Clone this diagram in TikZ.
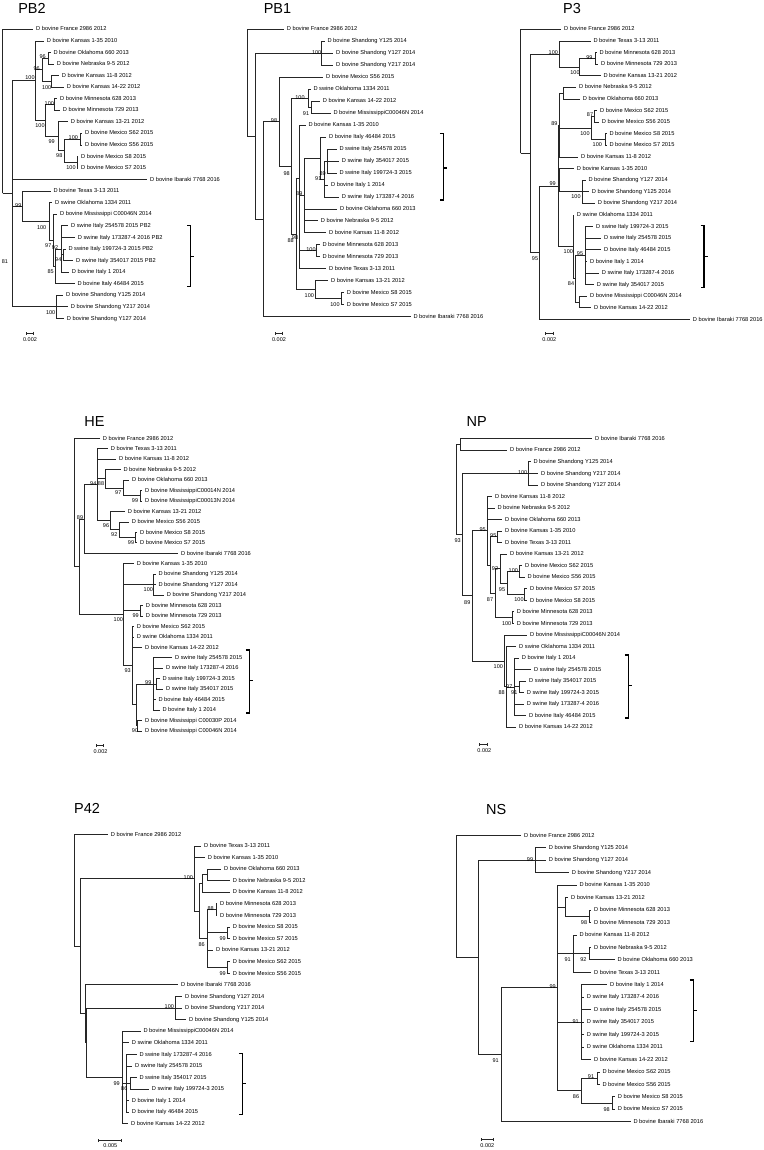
\documentclass[tikz,border=0pt]{standalone}
\usepackage{fontspec}
\setmainfont{Liberation Sans}
\usetikzlibrary{arrows.meta}

\begin{document}
\begin{tikzpicture}[
	x=1pt, y=-1pt,
	branch/.style={draw=black!85, line width=0.7pt},
	leaf/.style={
		anchor=west,
		inner xsep=2.6pt,
		inner ysep=0pt,
		text height=4.2pt,
		text depth=0.8pt,
		font=\fontsize{5.7}{6}\selectfont
	},
	boot/.style={inner sep=0pt, font=\fontsize{5.5}{6}\selectfont},
	title/.style={inner sep=0pt, font=\fontsize{14.5}{16}\selectfont},
	brace/.style={draw=black, line width=1.3pt},
	scalebar/.style={draw=black!85, line width=0.6pt, arrows={Bar[width=3pt]-Bar[width=3pt]}}
]
\fill[white] (0,0) rectangle (763,1150);
\useasboundingbox (0,0) rectangle (763,1150);

% ================= PB2 =================
\node[title] (pb2-title) at (32,8.7) {PB2};

% inner nodes
\coordinate (pb2-r) at (2.7,193.3);
\coordinate (pb2-a) at (12.3,193.3);
\coordinate (pb2-b) at (35.7,80.6);
\coordinate (pb2-x) at (42.3,69.8);
\coordinate (pb2-on) at (48.3,58.2);
\coordinate (pb2-kk) at (51.7,81.3);
\coordinate (pb2-y) at (45.7,120.4);
\coordinate (pb2-mn) at (54,104.5);
\coordinate (pb2-z) at (58.3,136.3);
\coordinate (pb2-mx) at (64.3,150.7);
\coordinate (pb2-m1) at (80,139.1);
\coordinate (pb2-m2) at (77.3,162.3);
\coordinate (pb2-c) at (22.7,206.3);
\coordinate (pb2-d) at (49.3,221.5);
\coordinate (pb2-g) at (53.3,240.3);
\coordinate (pb2-f) at (55,266.3);
\coordinate (pb2-e) at (61,249);
\coordinate (pb2-e2) at (63.3,254.8);
\coordinate (pb2-sd) at (56.7,306.8);

% leaves
\node[leaf] (pb2-fr) at (33.4,29.3) {D bovine France 2986 2012};
\node[leaf] (pb2-ks135) at (44.1,40.9) {D bovine Kansas 1-35 2010};
\node[leaf] (pb2-ok660) at (50.7,52.4) {D bovine Oklahoma 660 2013};
\node[leaf] (pb2-ne95) at (54.1,64.0) {D bovine Nebraska 9-5 2012};
\node[leaf] (pb2-ks118) at (59.1,75.5) {D bovine Kansas 11-8 2012};
\node[leaf] (pb2-ks1422) at (64.1,87.1) {D bovine Kansas 14-22 2012};
\node[leaf] (pb2-mn628) at (57.4,98.7) {D bovine Minnesota 628 2013};
\node[leaf] (pb2-mn729) at (60.1,110.2) {D bovine Minnesota 729 2013};
\node[leaf] (pb2-ks1321) at (68.1,121.8) {D bovine Kansas 13-21 2012};
\node[leaf] (pb2-mxs62) at (82.4,133.3) {D bovine Mexico S62 2015};
\node[leaf] (pb2-mxs56) at (82.4,144.9) {D bovine Mexico S56 2015};
\node[leaf] (pb2-mxs8) at (78.4,156.5) {D bovine Mexico S8 2015};
\node[leaf] (pb2-mxs7) at (78.4,168.0) {D bovine Mexico S7 2015};
\node[leaf] (pb2-ib) at (147.4,179.6) {D bovine Ibaraki 7768 2016};
\node[leaf] (pb2-tx) at (50.7,191.1) {D bovine Texas 3-13 2011};
\node[leaf] (pb2-ok1334) at (52.4,202.7) {D swine Oklahoma 1334 2011};
\node[leaf] (pb2-ms46) at (57.4,214.3) {D bovine Mississippi C00046N 2014};
\node[leaf] (pb2-it2545) at (68.4,225.8) {D swine Italy 254578 2015 PB2};
\node[leaf] (pb2-it1732) at (75.1,237.4) {D swine Italy 173287-4 2016 PB2};
\node[leaf] (pb2-it1997) at (65.7,249.0) {D swine Italy 199724-3 2015 PB2};
\node[leaf] (pb2-it3540) at (73.4,260.5) {D swine Italy 354017 2015 PB2};
\node[leaf] (pb2-it1) at (69.1,272.1) {D bovine Italy 1 2014};
\node[leaf] (pb2-it4648) at (74.7,283.6) {D bovine Italy 46484 2015};
\node[leaf] (pb2-sd125) at (63.4,295.2) {D bovine Shandong Y125 2014};
\node[leaf] (pb2-sd217) at (68.1,306.8) {D bovine Shandong Y217 2014};
\node[leaf] (pb2-sd127) at (64.1,318.3) {D bovine Shandong Y127 2014};

% branches
\draw[branch] (pb2-r) |- (pb2-fr.west) (pb2-r) |- (pb2-a);
\draw[branch] (pb2-a) |- (pb2-b) (pb2-a) |- (pb2-ib.west) (pb2-a) |- (pb2-c) (pb2-a) |- (pb2-sd);
\draw[branch] (pb2-b) |- (pb2-ks135.west) (pb2-b) |- (pb2-x) (pb2-b) |- (pb2-y);
\draw[branch] (pb2-x) |- (pb2-on) (pb2-x) |- (pb2-kk);
\draw[branch] (pb2-on) |- (pb2-ok660.west) (pb2-on) |- (pb2-ne95.west);
\draw[branch] (pb2-kk) |- (pb2-ks118.west) (pb2-kk) |- (pb2-ks1422.west);
\draw[branch] (pb2-y) |- (pb2-mn) (pb2-y) |- (pb2-z);
\draw[branch] (pb2-mn) |- (pb2-mn628.west) (pb2-mn) |- (pb2-mn729.west);
\draw[branch] (pb2-z) |- (pb2-ks1321.west) (pb2-z) |- (pb2-mx);
\draw[branch] (pb2-mx) |- (pb2-m1) (pb2-mx) |- (pb2-m2);
\draw[branch] (pb2-m1) |- (pb2-mxs62.west) (pb2-m1) |- (pb2-mxs56.west);
\draw[branch] (pb2-m2) |- (pb2-mxs8.west) (pb2-m2) |- (pb2-mxs7.west);
\draw[branch] (pb2-c) |- (pb2-tx.west) (pb2-c) |- (pb2-d);
\draw[branch] (pb2-d) |- (pb2-ok1334.west) (pb2-d) |- (pb2-g);
\draw[branch] (pb2-g) |- (pb2-ms46.west) (pb2-g) |- (pb2-f);
\draw[branch] (pb2-f) |- (pb2-e) (pb2-f) |- (pb2-it4648.west);
\draw[branch] (pb2-e) |- (pb2-it2545.west) (pb2-e) |- (pb2-it1732.west) (pb2-e) |- (pb2-e2) (pb2-e) |- (pb2-it1.west);
\draw[branch] (pb2-e2) |- (pb2-it1997.west) (pb2-e2) |- (pb2-it3540.west);
\draw[branch] (pb2-sd) |- (pb2-sd125.west) (pb2-sd) |- (pb2-sd217.west) (pb2-sd) |- (pb2-sd127.west);

% bootstrap values
\node[boot] (pb2-b1) at (30,78) {100};
\node[boot] (pb2-b2) at (42.7,56.7) {96};
\node[boot] (pb2-b3) at (36.7,68.3) {96};
\node[boot] (pb2-b4) at (46.7,87.3) {100};
\node[boot] (pb2-b5) at (49.3,103.3) {100};
\node[boot] (pb2-b6) at (40,126) {100};
\node[boot] (pb2-b7) at (51.7,141.7) {99};
\node[boot] (pb2-b8) at (73.3,137.3) {100};
\node[boot] (pb2-b9) at (59.3,156) {98};
\node[boot] (pb2-b10) at (71,167.3) {100};
\node[boot] (pb2-b11) at (18.3,205.7) {99};
\node[boot] (pb2-b12) at (41.7,227.3) {100};
\node[boot] (pb2-b13) at (48.3,245.7) {97};
\node[boot] (pb2-b14) at (55,247.3) {92};
\node[boot] (pb2-b15) at (58.3,259.3) {94};
\node[boot] (pb2-b16) at (50.7,271.7) {85};
\node[boot] (pb2-b17) at (5,262) {81};
\node[boot] (pb2-b18) at (50.7,312.7) {100};

% bracket and scale
\coordinate (pb2-kt) at (190.7,225.7);
\coordinate (pb2-kb) at (190.7,286.7);
\coordinate (pb2-km) at (190.7,256.2);
\draw[brace] ([xshift=-3.5pt]pb2-kt) -- (pb2-kt) -- (pb2-kb) -- ([xshift=-3.5pt]pb2-kb) (pb2-km) -- ([xshift=3.5pt]pb2-km);
\coordinate (pb2-s1) at (26,333);
\coordinate (pb2-s2) at (34,333);
\draw[scalebar] (pb2-s1) -- (pb2-s2);
\node[boot] (pb2-scale) at (30,340) {0.002};

% ================= PB1 =================
\node[title] (pb1-title) at (277.5,8.7) {PB1};

% inner nodes
\coordinate (pb1-r) at (247,136.2);
\coordinate (pb1-n1) at (255,136.2);
\coordinate (pb1-sd) at (321.7,53.2);
\coordinate (pb1-n2) at (263.3,219.1);
\coordinate (pb1-n3) at (279.3,121.7);
\coordinate (pb1-n4) at (291.7,166.1);
\coordinate (pb1-n5) at (308.3,98.2);
\coordinate (pb1-n5b) at (311,107.1);
\coordinate (pb1-n7) at (296.7,234);
\coordinate (pb1-n10) at (299.5,178.3);
\coordinate (pb1-n9) at (304,195.4);
\coordinate (pb1-i3) at (320,158);
\coordinate (pb1-i2) at (324,179);
\coordinate (pb1-i1) at (327.5,161);
\coordinate (pb1-mn) at (316.7,250.8);
\coordinate (pb1-k13) at (315.7,289.7);
\coordinate (pb1-mx) at (341,298.6);

% leaves
\node[leaf] (pb1-fr) at (284.1,29.3) {D bovine France 2986 2012};
\node[leaf] (pb1-sd125) at (324.7,41.3) {D bovine Shandong Y125 2014};
\node[leaf] (pb1-sd127) at (333.4,53.2) {D bovine Shandong Y127 2014};
\node[leaf] (pb1-sd217) at (333.4,65.2) {D bovine Shandong Y217 2014};
\node[leaf] (pb1-mxs56) at (323.4,77.2) {D bovine Mexico S56 2015};
\node[leaf] (pb1-ok1334) at (310.7,89.2) {D swine Oklahoma 1334 2011};
\node[leaf] (pb1-ks1422) at (320.1,101.1) {D bovine Kansas 14-22 2012};
\node[leaf] (pb1-ms46) at (330.7,113.1) {D bovine MississippiC00046N 2014};
\node[leaf] (pb1-ks135) at (305.7,125.1) {D bovine Kansas 1-35 2010};
\node[leaf] (pb1-it4648) at (326.4,137.0) {D bovine Italy 46484 2015};
\node[leaf] (pb1-it2545) at (336.7,149.0) {D swine Italy 254578 2015};
\node[leaf] (pb1-it3540) at (339.1,161.0) {D swine Italy 354017 2015};
\node[leaf] (pb1-it1997) at (336.7,172.9) {D swine Italy 199724-3 2015};
\node[leaf] (pb1-it1) at (328.4,184.9) {D bovine Italy 1 2014};
\node[leaf] (pb1-it1732) at (339.1,196.9) {D swine Italy 173287-4 2016};
\node[leaf] (pb1-ok660) at (337.4,208.9) {D bovine Oklahoma 660 2013};
\node[leaf] (pb1-ne95) at (318.1,220.8) {D bovine Nebraska 9-5 2012};
\node[leaf] (pb1-ks118) at (326.4,232.8) {D bovine Kansas 11-8 2012};
\node[leaf] (pb1-mn628) at (319.7,244.8) {D bovine Minnesota 628 2013};
\node[leaf] (pb1-mn729) at (319.7,256.7) {D bovine Minnesota 729 2013};
\node[leaf] (pb1-tx) at (326.4,268.7) {D bovine Texas 3-13 2011};
\node[leaf] (pb1-ks1321) at (328.4,280.7) {D bovine Kansas 13-21 2012};
\node[leaf] (pb1-mxs8) at (344.1,292.6) {D bovine Mexico S8 2015};
\node[leaf] (pb1-mxs7) at (344.1,304.6) {D bovine Mexico S7 2015};
\node[leaf] (pb1-ib) at (410.7,316.6) {D bovine Ibaraki 7768 2016};

% branches
\draw[branch] (pb1-r) |- (pb1-fr.west) (pb1-r) |- (pb1-n1);
\draw[branch] (pb1-n1) |- (pb1-sd) (pb1-n1) |- (pb1-n2);
\draw[branch] (pb1-sd) |- (pb1-sd125.west) (pb1-sd) |- (pb1-sd127.west) (pb1-sd) |- (pb1-sd217.west);
\draw[branch] (pb1-n2) |- (pb1-n3) (pb1-n2) |- (pb1-ib.west);
\draw[branch] (pb1-n3) |- (pb1-mxs56.west) (pb1-n3) |- (pb1-n4);
\draw[branch] (pb1-n4) |- (pb1-n5) (pb1-n4) |- (pb1-n7);
\draw[branch] (pb1-n5) |- (pb1-ok1334.west) (pb1-n5) |- (pb1-n5b);
\draw[branch] (pb1-n5b) |- (pb1-ks1422.west) (pb1-n5b) |- (pb1-ms46.west);
\draw[branch] (pb1-n7) |- (pb1-n10) (pb1-n7) |- (pb1-k13);
\draw[branch] (pb1-n10) |- (pb1-ks135.west) (pb1-n10) |- (pb1-n9) (pb1-n10) |- (pb1-mn) (pb1-n10) |- (pb1-tx.west);
\draw[branch] (pb1-n9) |- (pb1-i3) (pb1-n9) |- (pb1-ok660.west) (pb1-n9) |- (pb1-ne95.west) (pb1-n9) |- (pb1-ks118.west);
\draw[branch] (pb1-i3) |- (pb1-it4648.west) (pb1-i3) |- (pb1-i2);
\draw[branch] (pb1-i2) |- (pb1-i1) (pb1-i2) |- (pb1-it1.west) (pb1-i2) |- (pb1-it1732.west);
\draw[branch] (pb1-i1) |- (pb1-it2545.west) (pb1-i1) |- (pb1-it3540.west) (pb1-i1) |- (pb1-it1997.west);
\draw[branch] (pb1-mn) |- (pb1-mn628.west) (pb1-mn) |- (pb1-mn729.west);
\draw[branch] (pb1-k13) |- (pb1-ks1321.west) (pb1-k13) |- (pb1-mx);
\draw[branch] (pb1-mx) |- (pb1-mxs8.west) (pb1-mx) |- (pb1-mxs7.west);

% bootstrap values
\node[boot] (pb1-b1) at (316.7,52.7) {100};
\node[boot] (pb1-b2) at (274,120.7) {98};
\node[boot] (pb1-b3) at (300,97.7) {100};
\node[boot] (pb1-b4) at (306,113.3) {91};
\node[boot] (pb1-b5) at (286.7,173.3) {98};
\node[boot] (pb1-b6) at (322.7,173.3) {89};
\node[boot] (pb1-b7) at (318.3,179) {91};
\node[boot] (pb1-b8) at (299.3,193.3) {89};
\node[boot] (pb1-b9) at (295,237.7) {98};
\node[boot] (pb1-b10) at (290.7,240.7) {88};
\node[boot] (pb1-b11) at (311,250) {100};
\node[boot] (pb1-b12) at (309.3,296) {100};
\node[boot] (pb1-b13) at (335,305) {100};

% bracket and scale
\coordinate (pb1-kt) at (443.3,133.3);
\coordinate (pb1-kb) at (443.3,200);
\coordinate (pb1-km) at (443.3,168);
\draw[brace] ([xshift=-3.5pt]pb1-kt) -- (pb1-kt) -- (pb1-kb) -- ([xshift=-3.5pt]pb1-kb) (pb1-km) -- ([xshift=3.5pt]pb1-km);
\coordinate (pb1-s1) at (275,333);
\coordinate (pb1-s2) at (283,333);
\draw[scalebar] (pb1-s1) -- (pb1-s2);
\node[boot] (pb1-scale) at (279,340) {0.002};

% ================= P3 =================
\node[title] (p3-title) at (572,8.3) {P3};

% inner nodes
\coordinate (p3-r) at (520.7,153.3);
\coordinate (p3-m1) at (530,153.3);
\coordinate (p3-tn) at (559.3,54);
\coordinate (p3-tk) at (579,67);
\coordinate (p3-mn) at (595,58.3);
\coordinate (p3-m2) at (539.3,252.6);
\coordinate (p3-m4) at (558.3,185.9);
\coordinate (p3-m6) at (559.3,125);
\coordinate (p3-no) at (563.3,93.1);
\coordinate (p3-mx) at (591.7,127.9);
\coordinate (p3-mx1) at (594.3,116.3);
\coordinate (p3-mx2) at (605,139.5);
\coordinate (p3-m5) at (559.3,180.1);
\coordinate (p3-sd) at (582.3,191.7);
\coordinate (p3-o1) at (573.3,246.8);
\coordinate (p3-o2) at (575,278.7);
\coordinate (p3-it) at (585,255.5);
\coordinate (p3-mk) at (579,301.9);

% leaves
\node[leaf] (p3-fr) at (561.4,29.3) {D bovine France 2986 2012};
\node[leaf] (p3-tx) at (590.7,40.9) {D bovine Texas 3-13 2011};
\node[leaf] (p3-mn628) at (596.7,52.5) {D bovine Minnesota 628 2013};
\node[leaf] (p3-mn729) at (598.4,64.1) {D bovine Minnesota 729 2013};
\node[leaf] (p3-ks1321) at (600.7,75.7) {D bovine Kansas 13-21 2012};
\node[leaf] (p3-ne95) at (576.4,87.3) {D bovine Nebraska 9-5 2012};
\node[leaf] (p3-ok660) at (580.1,98.9) {D bovine Oklahoma 660 2013};
\node[leaf] (p3-mxs62) at (597.4,110.5) {D bovine Mexico S62 2015};
\node[leaf] (p3-mxs56) at (599.1,122.1) {D bovine Mexico S56 2015};
\node[leaf] (p3-mxs8) at (606.7,133.7) {D bovine Mexico S8 2015};
\node[leaf] (p3-mxs7) at (606.7,145.3) {D bovine Mexico S7 2015};
\node[leaf] (p3-ks118) at (578.4,156.9) {D bovine Kansas 11-8 2012};
\node[leaf] (p3-ks135) at (574.1,168.5) {D bovine Kansas 1-35 2010};
\node[leaf] (p3-sd127) at (585.7,180.1) {D bovine Shandong Y127 2014};
\node[leaf] (p3-sd125) at (589.1,191.7) {D bovine Shandong Y125 2014};
\node[leaf] (p3-sd217) at (595.1,203.3) {D bovine Shandong Y217 2014};
\node[leaf] (p3-ok1334) at (574.1,214.9) {D swine Oklahoma 1334 2011};
\node[leaf] (p3-it1997) at (593.4,226.5) {D swine Italy 199724-3 2015};
\node[leaf] (p3-it2545) at (601.4,238.1) {D swine Italy 254578 2015};
\node[leaf] (p3-it4648) at (601.4,249.7) {D bovine Italy 46484 2015};
\node[leaf] (p3-it1) at (587.4,261.3) {D bovine Italy 1 2014};
\node[leaf] (p3-it1732) at (599.1,272.9) {D swine Italy 173287-4 2016};
\node[leaf] (p3-it3540) at (594.1,284.5) {D swine Italy 354017 2015};
\node[leaf] (p3-ms46) at (587.4,296.1) {D bovine Mississippi C00046N 2014};
\node[leaf] (p3-ks1422) at (591.4,307.7) {D bovine Kansas 14-22 2012};
\node[leaf] (p3-ib) at (690.1,319.3) {D bovine Ibaraki 7768 2016};

% branches
\draw[branch] (p3-r) |- (p3-fr.west) (p3-r) |- (p3-m1);
\draw[branch] (p3-m1) |- (p3-tn) (p3-m1) |- (p3-m2);
\draw[branch] (p3-tn) |- (p3-tx.west) (p3-tn) |- (p3-tk);
\draw[branch] (p3-tk) |- (p3-mn) (p3-tk) |- (p3-ks1321.west);
\draw[branch] (p3-mn) |- (p3-mn628.west) (p3-mn) |- (p3-mn729.west);
\draw[branch] (p3-m2) |- (p3-m4) (p3-m2) |- (p3-ib.west);
\draw[branch] (p3-m4) |- (p3-m6) (p3-m4) |- (p3-m5) (p3-m4) |- (p3-o1);
\draw[branch] (p3-m6) |- (p3-no) (p3-m6) |- (p3-mx) (p3-m6) |- (p3-ks118.west);
\draw[branch] (p3-no) |- (p3-ne95.west) (p3-no) |- (p3-ok660.west);
\draw[branch] (p3-mx) |- (p3-mx1) (p3-mx) |- (p3-mx2);
\draw[branch] (p3-mx1) |- (p3-mxs62.west) (p3-mx1) |- (p3-mxs56.west);
\draw[branch] (p3-mx2) |- (p3-mxs8.west) (p3-mx2) |- (p3-mxs7.west);
\draw[branch] (p3-m5) |- (p3-ks135.west) (p3-m5) |- (p3-sd);
\draw[branch] (p3-sd) |- (p3-sd127.west) (p3-sd) |- (p3-sd125.west) (p3-sd) |- (p3-sd217.west);
\draw[branch] (p3-o1) |- (p3-ok1334.west) (p3-o1) |- (p3-o2);
\draw[branch] (p3-o2) |- (p3-it) (p3-o2) |- (p3-mk);
\draw[branch] (p3-it) |- (p3-it1997.west) (p3-it) |- (p3-it2545.west) (p3-it) |- (p3-it4648.west) (p3-it) |- (p3-it1.west) (p3-it) |- (p3-it1732.west) (p3-it) |- (p3-it3540.west);
\draw[branch] (p3-mk) |- (p3-ms46.west) (p3-mk) |- (p3-ks1422.west);

% bootstrap values
\node[boot] (p3-b1) at (553.3,52.7) {100};
\node[boot] (p3-b2) at (589.3,57.3) {99};
\node[boot] (p3-b3) at (575,72.7) {100};
\node[boot] (p3-b4) at (554.3,123.3) {89};
\node[boot] (p3-b5) at (590,114.3) {87};
\node[boot] (p3-b6) at (585,133.3) {100};
\node[boot] (p3-b7) at (597.3,145) {100};
\node[boot] (p3-b8) at (552.7,184) {99};
\node[boot] (p3-b9) at (576,196.7) {100};
\node[boot] (p3-b10) at (568.3,251.7) {100};
\node[boot] (p3-b11) at (580,253.3) {95};
\node[boot] (p3-b12) at (571,283.3) {84};
\node[boot] (p3-b13) at (535,259) {95};

% bracket and scale
\coordinate (p3-kt) at (704,225.7);
\coordinate (p3-kb) at (704,287.3);
\coordinate (p3-km) at (704,256.5);
\draw[brace] ([xshift=-3.5pt]p3-kt) -- (p3-kt) -- (p3-kb) -- ([xshift=-3.5pt]p3-kb) (p3-km) -- ([xshift=3.5pt]p3-km);
\coordinate (p3-s1) at (545.3,333);
\coordinate (p3-s2) at (553.3,333);
\draw[scalebar] (p3-s1) -- (p3-s2);
\node[boot] (p3-scale) at (549.3,340) {0.002};

% ================= HE =================
\node[title] (he-title) at (94.5,422) {HE};

% inner nodes
\coordinate (he-r) at (74,566.8);
\coordinate (he-h1) at (79,566.8);
\coordinate (he-h2) at (84.3,519);
\coordinate (he-h4) at (97,484.7);
\coordinate (he-h5) at (105.7,478.8);
\coordinate (he-hok) at (123.3,488);
\coordinate (he-hms) at (140,495.8);
\coordinate (he-h6) at (110,520.6);
\coordinate (he-hmx) at (119,529.8);
\coordinate (he-hmx2) at (135.7,537.6);
\coordinate (he-h3) at (123.3,614.7);
\coordinate (he-sd) at (153.3,584.6);
\coordinate (he-mn) at (140.7,610.8);
\coordinate (he-hs) at (132.7,665.6);
\coordinate (he-ht) at (136.7,704.8);
\coordinate (he-it) at (153.3,683.9);
\coordinate (he-its) at (156.7,683.9);
\coordinate (he-ms) at (137.5,725.7);

% leaves
\node[leaf] (he-fr) at (100.1,438.3) {D bovine France 2986 2012};
\node[leaf] (he-tx) at (108.1,448.8) {D bovine Texas 3-13 2011};
\node[leaf] (he-ks118) at (116.4,459.2) {D bovine Kansas 11-8 2012};
\node[leaf] (he-ne95) at (120.7,469.7) {D bovine Nebraska 9-5 2012};
\node[leaf] (he-ok660) at (129.4,480.1) {D bovine Oklahoma 660 2013};
\node[leaf] (he-ms14) at (142.4,490.6) {D bovine MississippiC00014N 2014};
\node[leaf] (he-ms13) at (142.4,501.0) {D bovine MississippiC00013N 2014};
\node[leaf] (he-ks1321) at (125.1,511.5) {D bovine Kansas 13-21 2012};
\node[leaf] (he-mxs56) at (129.1,521.9) {D bovine Mexico S56 2015};
\node[leaf] (he-mxs8) at (137.4,532.4) {D bovine Mexico S8 2015};
\node[leaf] (he-mxs7) at (137.4,542.8) {D bovine Mexico S7 2015};
\node[leaf] (he-ib) at (178.4,553.3) {D bovine Ibaraki 7768 2016};
\node[leaf] (he-ks135) at (134.1,563.7) {D bovine Kansas 1-35 2010};
\node[leaf] (he-sd125) at (155.7,574.2) {D bovine Shandong Y125 2014};
\node[leaf] (he-sd127) at (155.7,584.6) {D bovine Shandong Y127 2014};
\node[leaf] (he-sd217) at (164.1,595.1) {D bovine Shandong Y217 2014};
\node[leaf] (he-mn628) at (143.1,605.5) {D bovine Minnesota 628 2013};
\node[leaf] (he-mn729) at (143.1,616.0) {D bovine Minnesota 729 2013};
\node[leaf] (he-mxs62) at (134.1,626.4) {D bovine Mexico S62 2015};
\node[leaf] (he-ok1334) at (134.1,636.9) {D swine Oklahoma 1334 2011};
\node[leaf] (he-ks1422) at (142.4,647.3) {D bovine Kansas 14-22 2012};
\node[leaf] (he-it2545) at (172.4,657.8) {D swine Italy 254578 2015};
\node[leaf] (he-it1732) at (163.4,668.2) {D swine Italy 173287-4 2016};
\node[leaf] (he-it1997) at (159.7,678.7) {D swine Italy 199724-3 2015};
\node[leaf] (he-it3540) at (163.4,689.1) {D swine Italy 354017 2015};
\node[leaf] (he-it4648) at (155.7,699.6) {D bovine Italy 46484 2015};
\node[leaf] (he-it1) at (159.7,710.0) {D bovine Italy 1 2014};
\node[leaf] (he-ms30) at (142.4,720.5) {D bovine Mississippi C00030P 2014};
\node[leaf] (he-ms46) at (142.4,730.9) {D bovine Mississippi C00046N 2014};

% branches
\draw[branch] (he-r) |- (he-fr.west) (he-r) |- (he-h1);
\draw[branch] (he-h1) |- (he-h2) (he-h1) |- (he-h3);
\draw[branch] (he-h2) |- (he-h4) (he-h2) |- (he-ib.west);
\draw[branch] (he-h4) |- (he-tx.west) (he-h4) |- (he-ks118.west) (he-h4) |- (he-h5) (he-h4) |- (he-h6);
\draw[branch] (he-h5) |- (he-ne95.west) (he-h5) |- (he-hok);
\draw[branch] (he-hok) |- (he-ok660.west) (he-hok) |- (he-hms);
\draw[branch] (he-hms) |- (he-ms14.west) (he-hms) |- (he-ms13.west);
\draw[branch] (he-h6) |- (he-ks1321.west) (he-h6) |- (he-hmx);
\draw[branch] (he-hmx) |- (he-mxs56.west) (he-hmx) |- (he-hmx2);
\draw[branch] (he-hmx2) |- (he-mxs8.west) (he-hmx2) |- (he-mxs7.west);
\draw[branch] (he-h3) |- (he-ks135.west) (he-h3) |- (he-sd) (he-h3) |- (he-mn) (he-h3) |- (he-hs);
\draw[branch] (he-sd) |- (he-sd125.west) (he-sd) |- (he-sd127.west) (he-sd) |- (he-sd217.west);
\draw[branch] (he-mn) |- (he-mn628.west) (he-mn) |- (he-mn729.west);
\draw[branch] (he-hs) |- (he-mxs62.west) (he-hs) |- (he-ok1334.west) (he-hs) |- (he-ks1422.west) (he-hs) |- (he-ht);
\draw[branch] (he-ht) |- (he-it) (he-ht) |- (he-ms);
\draw[branch] (he-it) |- (he-it2545.west) (he-it) |- (he-it1732.west) (he-it) |- (he-its) (he-it) |- (he-it4648.west) (he-it) |- (he-it1.west);
\draw[branch] (he-its) |- (he-it1997.west) (he-its) |- (he-it3540.west);
\draw[branch] (he-ms) |- (he-ms30.west) (he-ms) |- (he-ms46.west);

% bootstrap values
\node[boot] (he-b1) at (80,517.3) {89};
\node[boot] (he-b2) at (93.3,483.3) {94};
\node[boot] (he-b3) at (101,483.3) {88};
\node[boot] (he-b4) at (118.3,492.7) {97};
\node[boot] (he-b5) at (135,500.7) {99};
\node[boot] (he-b6) at (106,525.7) {96};
\node[boot] (he-b7) at (114.3,535) {92};
\node[boot] (he-b8) at (131,542.7) {99};
\node[boot] (he-b9) at (148.3,589.3) {100};
\node[boot] (he-b10) at (135.7,616) {99};
\node[boot] (he-b11) at (118.3,619.3) {100};
\node[boot] (he-b12) at (127.7,670.7) {93};
\node[boot] (he-b13) at (148.3,682.7) {99};
\node[boot] (he-b14) at (135,731) {90};

% bracket and scale
\coordinate (he-kt) at (249.3,650);
\coordinate (he-kb) at (249.3,713);
\coordinate (he-km) at (249.3,680.7);
\draw[brace] ([xshift=-3.5pt]he-kt) -- (he-kt) -- (he-kb) -- ([xshift=-3.5pt]he-kb) (he-km) -- ([xshift=3.5pt]he-km);
\coordinate (he-s1) at (95.7,745.7);
\coordinate (he-s2) at (103.3,745.7);
\draw[scalebar] (he-s1) -- (he-s2);
\node[boot] (he-scale) at (100.5,751.7) {0.002};

% ================= NP =================
\node[title] (np-title) at (476.7,422) {NP};

% inner nodes
\coordinate (np-r) at (456,489.5);
\coordinate (np-np1) at (460.7,444.5);
\coordinate (np-np2) at (462.7,534.6);
\coordinate (np-sd) at (528.3,473.4);
\coordinate (np-np3) at (472.7,595.8);
\coordinate (np-np4) at (487.3,530.7);
\coordinate (np-np4b) at (490,564.9);
\coordinate (np-kt) at (497.3,536.8);
\coordinate (np-np4c) at (495,593);
\coordinate (np-mxa) at (500,568.5);
\coordinate (np-mxb) at (507.7,583);
\coordinate (np-mx1) at (519.3,571.4);
\coordinate (np-mx2) at (524.3,594.5);
\coordinate (np-mn) at (512.7,617.6);
\coordinate (np-np5) at (504,660.9);
\coordinate (np-np6) at (506.7,686.8);
\coordinate (np-np7) at (514,686.9);
\coordinate (np-np7s) at (519.3,686.8);

% leaves
\node[leaf] (np-ib) at (592.4,438.7) {D bovine Ibaraki 7768 2016};
\node[leaf] (np-fr) at (507.4,450.2) {D bovine France 2986 2012};
\node[leaf] (np-sd125) at (530.7,461.8) {D bovine Shandong Y125 2014};
\node[leaf] (np-sd217) at (538.4,473.3) {D bovine Shandong Y217 2014};
\node[leaf] (np-sd127) at (538.4,484.9) {D bovine Shandong Y127 2014};
\node[leaf] (np-ks118) at (492.4,496.4) {D bovine Kansas 11-8 2012};
\node[leaf] (np-ne95) at (494.7,508.0) {D bovine Nebraska 9-5 2012};
\node[leaf] (np-ok660) at (502.4,519.5) {D bovine Oklahoma 660 2013};
\node[leaf] (np-ks135) at (502.4,531.0) {D bovine Kansas 1-35 2010};
\node[leaf] (np-tx) at (502.4,542.6) {D bovine Texas 3-13 2011};
\node[leaf] (np-ks1321) at (507.4,554.1) {D bovine Kansas 13-21 2012};
\node[leaf] (np-mxs62) at (522.4,565.6) {D bovine Mexico S62 2015};
\node[leaf] (np-mxs56) at (524.7,577.2) {D bovine Mexico S56 2015};
\node[leaf] (np-mxs7) at (527.4,588.7) {D bovine Mexico S7 2015};
\node[leaf] (np-mxs8) at (527.4,600.3) {D bovine Mexico S8 2015};
\node[leaf] (np-mn628) at (514.1,611.8) {D bovine Minnesota 628 2013};
\node[leaf] (np-mn729) at (514.1,623.3) {D bovine Minnesota 729 2013};
\node[leaf] (np-ms46) at (527.4,634.9) {D bovine MississippiC00046N 2014};
\node[leaf] (np-ok1334) at (516.4,646.4) {D swine Oklahoma 1334 2011};
\node[leaf] (np-it1) at (519.1,658.0) {D bovine Italy 1 2014};
\node[leaf] (np-it2545) at (531.4,669.5) {D swine Italy 254578 2015};
\node[leaf] (np-it3540) at (526.4,681.0) {D swine Italy 354017 2015};
\node[leaf] (np-it1997) at (524.1,692.6) {D swine Italy 199724-3 2015};
\node[leaf] (np-it1732) at (524.1,704.1) {D swine Italy 173287-4 2016};
\node[leaf] (np-it4648) at (526.4,715.7) {D bovine Italy 46484 2015};
\node[leaf] (np-ks1422) at (516.4,727.2) {D bovine Kansas 14-22 2012};

% branches
\draw[branch] (np-r) |- (np-np1) (np-r) |- (np-np2);
\draw[branch] (np-np1) |- (np-ib.west) (np-np1) |- (np-fr.west);
\draw[branch] (np-np2) |- (np-sd) (np-np2) |- (np-np3);
\draw[branch] (np-sd) |- (np-sd125.west) (np-sd) |- (np-sd217.west) (np-sd) |- (np-sd127.west);
\draw[branch] (np-np3) |- (np-np4) (np-np3) |- (np-np5);
\draw[branch] (np-np4) |- (np-ks118.west) (np-np4) |- (np-ne95.west) (np-np4) |- (np-ok660.west) (np-np4) |- (np-np4b);
\draw[branch] (np-np4b) |- (np-kt) (np-np4b) |- (np-np4c);
\draw[branch] (np-kt) |- (np-ks135.west) (np-kt) |- (np-tx.west);
\draw[branch] (np-np4c) |- (np-mxa) (np-np4c) |- (np-mn);
\draw[branch] (np-mxa) |- (np-ks1321.west) (np-mxa) |- (np-mxb);
\draw[branch] (np-mxb) |- (np-mx1) (np-mxb) |- (np-mx2);
\draw[branch] (np-mx1) |- (np-mxs62.west) (np-mx1) |- (np-mxs56.west);
\draw[branch] (np-mx2) |- (np-mxs7.west) (np-mx2) |- (np-mxs8.west);
\draw[branch] (np-mn) |- (np-mn628.west) (np-mn) |- (np-mn729.west);
\draw[branch] (np-np5) |- (np-ms46.west) (np-np5) |- (np-np6);
\draw[branch] (np-np6) |- (np-ok1334.west) (np-np6) |- (np-np7) (np-np6) |- (np-ks1422.west);
\draw[branch] (np-np7) |- (np-it1.west) (np-np7) |- (np-it2545.west) (np-np7) |- (np-np7s) (np-np7) |- (np-it1732.west) (np-np7) |- (np-it4648.west);
\draw[branch] (np-np7s) |- (np-it3540.west) (np-np7s) |- (np-it1997.west);

% bootstrap values
\node[boot] (np-b1) at (522.7,472.3) {100};
\node[boot] (np-b2) at (457.7,540.7) {93};
\node[boot] (np-b3) at (467.3,602.3) {89};
\node[boot] (np-b4) at (482.7,529.3) {95};
\node[boot] (np-b5) at (493.3,536) {95};
\node[boot] (np-b6) at (495,568.3) {92};
\node[boot] (np-b7) at (513.3,571) {100};
\node[boot] (np-b8) at (502,589.3) {95};
\node[boot] (np-b9) at (519,600) {100};
\node[boot] (np-b10) at (490,599.3) {87};
\node[boot] (np-b11) at (506.7,624) {100};
\node[boot] (np-b12) at (498.3,666.7) {100};
\node[boot] (np-b13) at (509.3,686.7) {97};
\node[boot] (np-b14) at (501.7,692.7) {88};
\node[boot] (np-b15) at (514.3,692.7) {91};

% bracket and scale
\coordinate (np-kt) at (628.3,655);
\coordinate (np-kb) at (628.3,718);
\coordinate (np-km) at (628.3,685.7);
\draw[brace] ([xshift=-3.5pt]np-kt) -- (np-kt) -- (np-kb) -- ([xshift=-3.5pt]np-kb) (np-km) -- ([xshift=3.5pt]np-km);
\coordinate (np-s1) at (479.3,744.3);
\coordinate (np-s2) at (487.7,744.3);
\draw[scalebar] (np-s1) -- (np-s2);
\node[boot] (np-scale) at (484.3,750.7) {0.002};

% ================= P42 =================
\node[title] (p42-title) at (87,808.3) {P42};

% inner nodes
\coordinate (p42-r) at (74,946.1);
\coordinate (p42-q1) at (80.7,946.1);
\coordinate (p42-q2) at (194.3,878.5);
\coordinate (p42-q6) at (199,911);
\coordinate (p42-q7) at (202.7,883.5);
\coordinate (p42-on) at (207.3,874.8);
\coordinate (p42-q8) at (207.3,938.6);
\coordinate (p42-mn) at (216,909.6);
\coordinate (p42-mx1) at (227.7,932.7);
\coordinate (p42-mx2) at (227.7,967.5);
\coordinate (p42-q3) at (85.7,1013.8);
\coordinate (p42-q3b) at (86.7,1042.8);
\coordinate (p42-sd) at (175,1008);
\coordinate (p42-q5) at (122.3,1077.5);
\coordinate (p42-qi) at (126.7,1083.3);
\coordinate (p42-qis) at (130,1083.3);

% leaves
\node[leaf] (p42-fr) at (108.1,834.3) {D bovine France 2986 2012};
\node[leaf] (p42-tx) at (201.4,845.9) {D bovine Texas 3-13 2011};
\node[leaf] (p42-ks135) at (205.1,857.5) {D bovine Kansas 1-35 2010};
\node[leaf] (p42-ok660) at (221.4,869.0) {D bovine Oklahoma 660 2013};
\node[leaf] (p42-ne95) at (230.1,880.6) {D bovine Nebraska 9-5 2012};
\node[leaf] (p42-ks118) at (230.1,892.2) {D bovine Kansas 11-8 2012};
\node[leaf] (p42-mn628) at (217.4,903.8) {D bovine Minnesota 628 2013};
\node[leaf] (p42-mn729) at (217.4,915.4) {D bovine Minnesota 729 2013};
\node[leaf] (p42-mxs8) at (230.1,926.9) {D bovine Mexico S8 2015};
\node[leaf] (p42-mxs7) at (230.1,938.5) {D bovine Mexico S7 2015};
\node[leaf] (p42-ks1321) at (213.4,950.1) {D bovine Kansas 13-21 2012};
\node[leaf] (p42-mxs62) at (230.1,961.7) {D bovine Mexico S62 2015};
\node[leaf] (p42-mxs56) at (230.1,973.3) {D bovine Mexico S56 2015};
\node[leaf] (p42-ib) at (178.4,984.8) {D bovine Ibaraki 7768 2016};
\node[leaf] (p42-sd127) at (182.4,996.4) {D bovine Shandong Y127 2014};
\node[leaf] (p42-sd217) at (182.4,1008.0) {D bovine Shandong Y217 2014};
\node[leaf] (p42-sd125) at (186.4,1019.6) {D bovine Shandong Y125 2014};
\node[leaf] (p42-ms46) at (140.7,1031.2) {D bovine MississippiC00046N 2014};
\node[leaf] (p42-ok1334) at (129.1,1042.7) {D swine Oklahoma 1334 2011};
\node[leaf] (p42-it1732) at (136.7,1054.3) {D swine Italy 173287-4 2016};
\node[leaf] (p42-it2545) at (132.4,1065.9) {D swine Italy 254578 2015};
\node[leaf] (p42-it3540) at (136.7,1077.5) {D swine Italy 354017 2015};
\node[leaf] (p42-it1997) at (149.1,1089.1) {D swine Italy 199724-3 2015};
\node[leaf] (p42-it1) at (129.1,1100.6) {D bovine Italy 1 2014};
\node[leaf] (p42-it4648) at (129.1,1112.2) {D bovine Italy 46484 2015};
\node[leaf] (p42-ks1422) at (128.4,1123.8) {D bovine Kansas 14-22 2012};

% branches
\draw[branch] (p42-r) |- (p42-fr.west) (p42-r) |- (p42-q1);
\draw[branch] (p42-q1) |- (p42-q2) (p42-q1) |- (p42-q3);
\draw[branch] (p42-q2) |- (p42-tx.west) (p42-q2) |- (p42-ks135.west) (p42-q2) |- (p42-q6);
\draw[branch] (p42-q6) |- (p42-q7) (p42-q6) |- (p42-q8);
\draw[branch] (p42-q7) |- (p42-on) (p42-q7) |- (p42-ks118.west);
\draw[branch] (p42-on) |- (p42-ok660.west) (p42-on) |- (p42-ne95.west);
\draw[branch] (p42-q8) |- (p42-mn) (p42-q8) |- (p42-mx1) (p42-q8) |- (p42-ks1321.west) (p42-q8) |- (p42-mx2);
\draw[branch] (p42-mn) |- (p42-mn628.west) (p42-mn) |- (p42-mn729.west);
\draw[branch] (p42-mx1) |- (p42-mxs8.west) (p42-mx1) |- (p42-mxs7.west);
\draw[branch] (p42-mx2) |- (p42-mxs62.west) (p42-mx2) |- (p42-mxs56.west);
\draw[branch] (p42-q3) |- (p42-ib.west) (p42-q3) |- (p42-q3b);
\draw[branch] (p42-q3b) |- (p42-sd) (p42-q3b) |- (p42-q5);
\draw[branch] (p42-sd) |- (p42-sd127.west) (p42-sd) |- (p42-sd217.west) (p42-sd) |- (p42-sd125.west);
\draw[branch] (p42-q5) |- (p42-ms46.west) (p42-q5) |- (p42-ok1334.west) (p42-q5) |- (p42-qi) (p42-q5) |- (p42-ks1422.west);
\draw[branch] (p42-qi) |- (p42-it1732.west) (p42-qi) |- (p42-it2545.west) (p42-qi) |- (p42-qis) (p42-qi) |- (p42-it1.west) (p42-qi) |- (p42-it4648.west);
\draw[branch] (p42-qis) |- (p42-it3540.west) (p42-qis) |- (p42-it1997.west);

% bootstrap values
\node[boot] (p42-b1) at (188.3,877.7) {100};
\node[boot] (p42-b2) at (210.7,909) {88};
\node[boot] (p42-b3) at (222.7,938.7) {99};
\node[boot] (p42-b4) at (201.7,944.3) {86};
\node[boot] (p42-b5) at (222.7,973.3) {99};
\node[boot] (p42-b6) at (169.3,1006.7) {100};
\node[boot] (p42-b7) at (116.7,1083.3) {99};
\node[boot] (p42-b8) at (124.3,1089) {86};

% bracket and scale
\coordinate (p42-kt) at (242.3,1053.3);
\coordinate (p42-kb) at (242.3,1114.3);
\coordinate (p42-km) at (242.3,1083.3);
\draw[brace] ([xshift=-3.5pt]p42-kt) -- (p42-kt) -- (p42-kb) -- ([xshift=-3.5pt]p42-kb) (p42-km) -- ([xshift=3.5pt]p42-km);
\coordinate (p42-s1) at (98.3,1140.7);
\coordinate (p42-s2) at (121.7,1140.7);
\draw[scalebar] (p42-s1) -- (p42-s2);
\node[boot] (p42-scale) at (110.3,1146) {0.005};

% ================= NS =================
\node[title] (ns-title) at (496.3,809) {NS};

% inner nodes
\coordinate (ns-r) at (456,957.5);
\coordinate (ns-s1) at (478.7,957.5);
\coordinate (ns-sd) at (535.7,860.2);
\coordinate (ns-s2) at (501,1054.8);
\coordinate (ns-s3) at (557.7,987.8);
\coordinate (ns-s4) at (565.7,906.9);
\coordinate (ns-mn) at (589,916.3);
\coordinate (ns-s5) at (573.3,953.6);
\coordinate (ns-no) at (589,953.6);
\coordinate (ns-s6) at (581.7,1022.1);
\coordinate (ns-s7) at (581.7,1090.6);
\coordinate (ns-mx1) at (597.3,1078.1);
\coordinate (ns-mx2) at (612.3,1103);

% leaves
\node[leaf] (ns-fr) at (521.4,835.3) {D bovine France 2986 2012};
\node[leaf] (ns-sd125) at (546.1,847.8) {D bovine Shandong Y125 2014};
\node[leaf] (ns-sd127) at (546.1,860.2) {D bovine Shandong Y127 2014};
\node[leaf] (ns-sd217) at (569.1,872.7) {D bovine Shandong Y217 2014};
\node[leaf] (ns-ks135) at (576.7,885.1) {D bovine Kansas 1-35 2010};
\node[leaf] (ns-ks1321) at (568.4,897.6) {D bovine Kansas 13-21 2012};
\node[leaf] (ns-mn628) at (591.4,910.0) {D bovine Minnesota 628 2013};
\node[leaf] (ns-mn729) at (591.4,922.5) {D bovine Minnesota 729 2013};
\node[leaf] (ns-ks118) at (576.7,934.9) {D bovine Kansas 11-8 2012};
\node[leaf] (ns-ne95) at (591.4,947.4) {D bovine Nebraska 9-5 2012};
\node[leaf] (ns-ok660) at (614.7,959.8) {D bovine Oklahoma 660 2013};
\node[leaf] (ns-tx) at (591.4,972.3) {D bovine Texas 3-13 2011};
\node[leaf] (ns-it1) at (607.4,984.7) {D bovine Italy 1 2014};
\node[leaf] (ns-it1732) at (584.1,997.2) {D swine Italy 173287-4 2016};
\node[leaf] (ns-it2545) at (591.4,1009.6) {D swine Italy 254578 2015};
\node[leaf] (ns-it3540) at (584.1,1022.1) {D swine Italy 354017 2015};
\node[leaf] (ns-it1997) at (584.1,1034.5) {D swine Italy 199724-3 2015};
\node[leaf] (ns-ok1334) at (584.1,1047.0) {D swine Oklahoma 1334 2011};
\node[leaf] (ns-ks1422) at (591.4,1059.4) {D bovine Kansas 14-22 2012};
\node[leaf] (ns-mxs62) at (599.7,1071.9) {D bovine Mexico S62 2015};
\node[leaf] (ns-mxs56) at (599.7,1084.3) {D bovine Mexico S56 2015};
\node[leaf] (ns-mxs8) at (615.1,1096.8) {D bovine Mexico S8 2015};
\node[leaf] (ns-mxs7) at (615.1,1109.2) {D bovine Mexico S7 2015};
\node[leaf] (ns-ib) at (630.7,1121.7) {D bovine Ibaraki 7768 2016};

% branches
\draw[branch] (ns-r) |- (ns-fr.west) (ns-r) |- (ns-s1);
\draw[branch] (ns-s1) |- (ns-sd) (ns-s1) |- (ns-s2);
\draw[branch] (ns-sd) |- (ns-sd125.west) (ns-sd) |- (ns-sd127.west) (ns-sd) |- (ns-sd217.west);
\draw[branch] (ns-s2) |- (ns-s3) (ns-s2) |- (ns-ib.west);
\draw[branch] (ns-s3) |- (ns-ks135.west) (ns-s3) |- (ns-s4) (ns-s3) |- (ns-s5) (ns-s3) |- (ns-s6) (ns-s3) |- (ns-s7);
\draw[branch] (ns-s4) |- (ns-ks1321.west) (ns-s4) |- (ns-mn);
\draw[branch] (ns-mn) |- (ns-mn628.west) (ns-mn) |- (ns-mn729.west);
\draw[branch] (ns-s5) |- (ns-ks118.west) (ns-s5) |- (ns-no) (ns-s5) |- (ns-tx.west);
\draw[branch] (ns-no) |- (ns-ne95.west) (ns-no) |- (ns-ok660.west);
\draw[branch] (ns-s6) |- (ns-it1.west) (ns-s6) |- (ns-it1732.west) (ns-s6) |- (ns-it2545.west) (ns-s6) |- (ns-it3540.west) (ns-s6) |- (ns-it1997.west) (ns-s6) |- (ns-ok1334.west) (ns-s6) |- (ns-ks1422.west);
\draw[branch] (ns-s7) |- (ns-mx1) (ns-s7) |- (ns-mx2);
\draw[branch] (ns-mx1) |- (ns-mxs62.west) (ns-mx1) |- (ns-mxs56.west);
\draw[branch] (ns-mx2) |- (ns-mxs8.west) (ns-mx2) |- (ns-mxs7.west);

% bootstrap values
\node[boot] (ns-b1) at (530,859.3) {99};
\node[boot] (ns-b2) at (584,922.3) {98};
\node[boot] (ns-b3) at (567.7,959.3) {91};
\node[boot] (ns-b4) at (583.3,959.3) {92};
\node[boot] (ns-b5) at (552.7,986.7) {99};
\node[boot] (ns-b6) at (575.7,1021.7) {91};
\node[boot] (ns-b7) at (495.7,1060.7) {91};
\node[boot] (ns-b8) at (591,1076.7) {91};
\node[boot] (ns-b9) at (576,1096.7) {86};
\node[boot] (ns-b10) at (606.7,1109.3) {98};

% bracket and scale
\coordinate (ns-kt) at (693.3,980);
\coordinate (ns-kb) at (693.3,1041.7);
\coordinate (ns-km) at (693.3,1010.7);
\draw[brace] ([xshift=-3.5pt]ns-kt) -- (ns-kt) -- (ns-kb) -- ([xshift=-3.5pt]ns-kb) (ns-km) -- ([xshift=3.5pt]ns-km);
\coordinate (ns-s1b) at (481,1139.3);
\coordinate (ns-s2b) at (494,1139.3);
\draw[scalebar] (ns-s1b) -- (ns-s2b);
\node[boot] (ns-scale) at (487.3,1145.7) {0.002};

\end{tikzpicture}
\end{document}
